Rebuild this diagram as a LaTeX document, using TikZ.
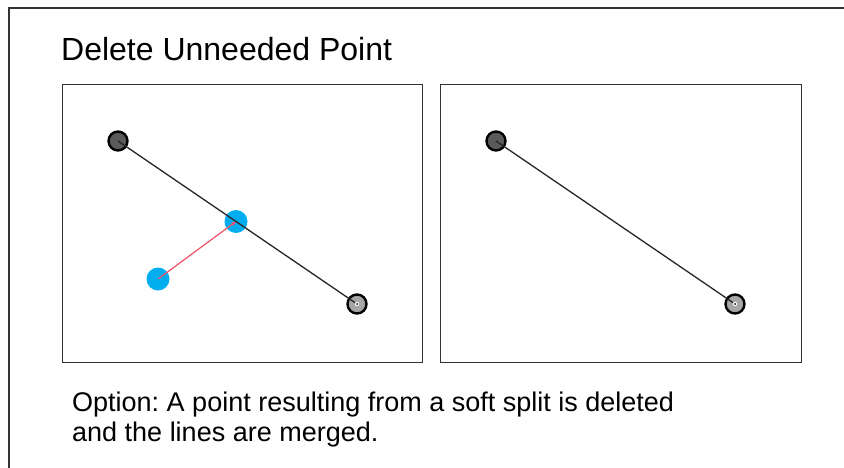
\documentclass[tikz,border=0pt]{standalone}
\usepackage{fontspec}
\setmainfont{Liberation Sans}
\usetikzlibrary{arrows.meta}
\definecolor{cyanpt}{HTML}{00AEEF}
\definecolor{redln}{HTML}{F2506A}
\definecolor{darkpt}{HTML}{5A5A5A}
\definecolor{framec}{HTML}{333333}
\tikzset{
  panel/.style={draw=framec, line width=1.3pt},
  endpt/.style={circle, draw=black, line width=2.4pt, fill=darkpt, minimum size=19pt, inner sep=0pt},
  endpt2/.style={circle, draw=black, line width=2.4pt, fill=gray!70, minimum size=19pt, inner sep=0pt},
  bluept/.style={circle, fill=cyanpt, minimum size=23pt, inner sep=0pt},
  segline/.style={draw=black!85, line width=1.3pt},
  redline/.style={draw=redln, line width=1.2pt, -{Stealth[length=5pt,width=4pt]}},
}
\frenchspacing
\begin{document}
\begin{tikzpicture}[x=1pt,y=-1pt]
\useasboundingbox (0,0) rectangle (844,468);
\fill[white] (0,0) rectangle (844,468);
% outer frame (top and left only)
\draw[draw=framec, line width=2pt] (9,468) -- (9,8) -- (844,8);
% title
\node[anchor=base west, inner sep=0pt, font=\fontsize{32}{36}\selectfont] (title) at (61,61) {Delete Unneeded Point};
% panels
\node[panel, minimum width=360pt, minimum height=278pt, anchor=north west, inner sep=0pt] (lp) at (62,84) {};
\node[panel, minimum width=361pt, minimum height=278pt, anchor=north west, inner sep=0pt] (rp) at (440,84) {};
% left panel points
\node[endpt] (la) at (118,141) {};
\node[endpt2] (lb) at (357,304) {};
\node[bluept] (bm) at (236,221.5) {};
\node[bluept] (bs) at (158,279) {};
\draw[segline] (la.center) -- (lb.center);
\draw[redline] (bs.center) -- (bm.center);
\fill[white] (lb.center) circle (2.2pt);
\fill[black] (lb.center) circle (1pt);
% right panel points
\node[endpt] (ra) at (496,141) {};
\node[endpt2] (rb) at (735,304) {};
\draw[segline] (ra.center) -- (rb.center);
\fill[white] (rb.center) circle (2.2pt);
\fill[black] (rb.center) circle (1pt);
% caption
\node[anchor=base west, inner sep=0pt, font=\fontsize{27}{30}\selectfont] (cap1) at (72,411.5) {Option: A point resulting from a soft split is deleted};
\node[anchor=base west, inner sep=0pt, font=\fontsize{27}{30}\selectfont] (cap2) at (72,441.5) {and the lines are merged.};
\end{tikzpicture}
\end{document}
